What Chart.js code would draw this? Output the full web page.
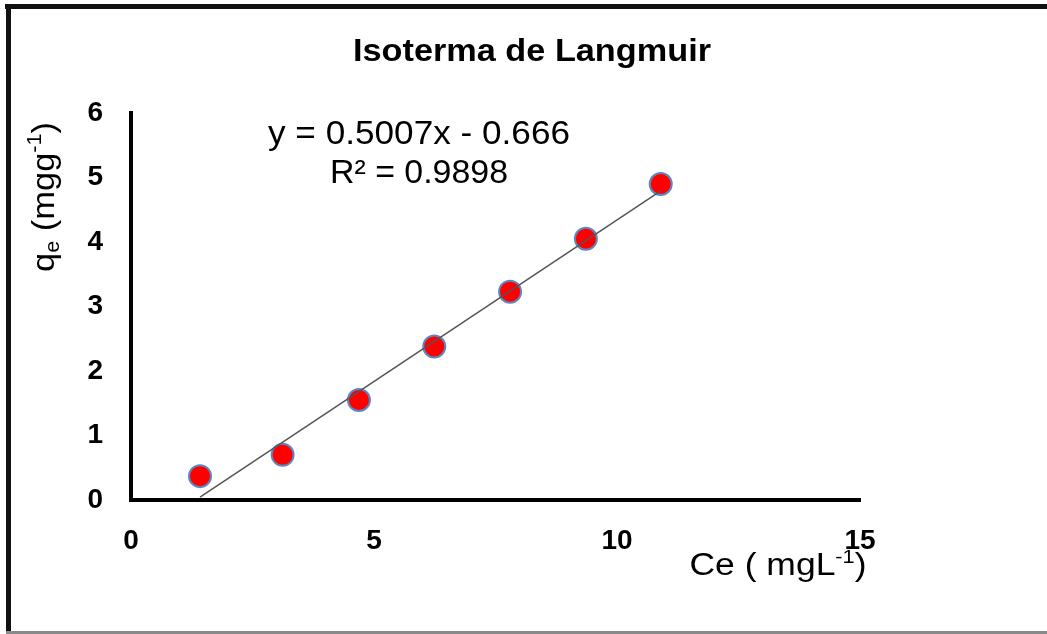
<!DOCTYPE html>
<html lang="pt">
<head>
  <meta charset="UTF-8">
  <title>Isoterma de Langmuir</title>
  <style>
    html, body {
      margin: 0;
      padding: 0;
      background: #fff;
    }
    #chart {
      display: block;
    }
  </style>
</head>
<body>
  <canvas id="chart" width="1047" height="634"></canvas>

  <script src="https://cdn.jsdelivr.net/npm/chart.js"></script>
  <script>
    // valores
    const ceValues = [1.42, 3.12, 4.69, 6.24, 7.80, 9.36, 10.90];
    const qeValues = [0.37, 0.70, 1.55, 2.38, 3.23, 4.05, 4.90];

    // linha de tendência (equação mostrada no gráfico)
    const slope = 0.5007;
    const intercept = -0.666;
    const rSquared = '0.9898';

    const xRange = [0, 15];
    const yRange = [0, 6];
    const xStep = 5;
    const yStep = 1;

    const chartTitle = 'Isoterma de Langmuir';

    const points = ceValues.map((x, i) => ({ x: x, y: qeValues[i] }));
    const xFirst = Math.min(...ceValues);
    const xLast = Math.max(...ceValues);
    const trend = [
      { x: xFirst, y: slope * xFirst + intercept },
      { x: xLast, y: slope * xLast + intercept }
    ];

    const FONT = '"Liberation Sans", Arial, sans-serif';

    // texto com índices / expoentes, esticado até a largura pedida
    function drawParts(ctx, parts, size, weight, targetWidth) {
      const small = Math.round(size * 0.62);
      const fontFor = p => `${weight} ${p.sub || p.sup ? small : size}px ${FONT}`;
      let w = 0;
      parts.forEach(p => {
        ctx.font = fontFor(p);
        p.w = ctx.measureText(p.t).width;
        w += p.w;
      });
      ctx.scale(targetWidth / w, 1);
      let x = -w / 2;
      parts.forEach(p => {
        ctx.font = fontFor(p);
        const dy = p.sub ? size * 0.16 : p.sup ? -size * 0.4 : 0;
        ctx.fillText(p.t, x, dy);
        x += p.w;
      });
    }

    const framePlugin = {
      id: 'frame',
      beforeDraw(chart) {
        const ctx = chart.ctx;
        ctx.save();
        ctx.fillStyle = '#fff';
        ctx.fillRect(0, 0, chart.width, chart.height);
        ctx.fillStyle = '#111';
        ctx.fillRect(5, 4, chart.width - 5, 5);
        ctx.fillRect(6, 4, 5, chart.height - 4);
        ctx.fillStyle = '#8a8a8a';
        ctx.fillRect(6, chart.height - 3, chart.width - 6, 3);
        ctx.restore();
      }
    };

    const textPlugin = {
      id: 'texts',
      afterDraw(chart) {
        const ctx = chart.ctx;
        ctx.save();
        ctx.fillStyle = '#000';
        ctx.textAlign = 'left';
        ctx.textBaseline = 'alphabetic';

        // título
        ctx.save();
        ctx.translate(532, 61);
        drawParts(ctx, [{ t: chartTitle }], 31, 'bold', 358);
        ctx.restore();

        // equação da reta
        ctx.save();
        ctx.translate(419, 144);
        drawParts(ctx, [{ t: `y = ${slope}x - ${Math.abs(intercept)}` }], 33, 'normal', 302);
        ctx.restore();
        ctx.save();
        ctx.translate(419, 183);
        drawParts(ctx, [{ t: `R² = ${rSquared}` }], 33, 'normal', 178);
        ctx.restore();

        // título do eixo x
        ctx.save();
        ctx.translate(778, 575);
        drawParts(ctx, [{ t: 'Ce ( mgL' }, { t: '-1', sup: true }, { t: ')' }], 31, 'normal', 177);
        ctx.restore();

        // título do eixo y
        ctx.save();
        ctx.translate(54, 197);
        ctx.rotate(-Math.PI / 2);
        drawParts(ctx, [{ t: 'q' }, { t: 'e', sub: true }, { t: ' (mgg' }, { t: '-1', sup: true }, { t: ')' }], 32, 'normal', 150);
        ctx.restore();

        ctx.restore();
      }
    };

    const tickFont = { family: FONT, size: 28, weight: 'bold' };

    new Chart(document.getElementById('chart').getContext('2d'), {
      type: 'scatter',
      data: {
        datasets: [{
          label: 'qe',
          data: points,
          pointRadius: 11,
          pointBackgroundColor: '#ff0000',
          pointBorderColor: '#5b87c4',
          pointBorderWidth: 2,
          showLine: false,
          order: 2
        }, {
          label: 'Linear',
          data: trend,
          showLine: true,
          borderColor: '#555555',
          borderWidth: 1.5,
          pointRadius: 0,
          order: 1
        }]
      },
      options: {
        responsive: false,
        animation: false,
        events: [],
        layout: {
          padding: { left: 0, top: 113, right: 187, bottom: 0 }
        },
        plugins: {
          legend: { display: false },
          title: { display: false },
          tooltip: { enabled: false }
        },
        scales: {
          x: {
            type: 'linear',
            min: xRange[0],
            max: xRange[1],
            ticks: { stepSize: xStep, padding: 24, color: '#000', font: tickFont },
            grid: { display: false, drawTicks: false },
            border: { display: true, color: '#000', width: 4 },
            afterFit: s => { s.height = 134; }
          },
          y: {
            type: 'linear',
            min: yRange[0],
            max: yRange[1],
            ticks: { stepSize: yStep, padding: 28, color: '#000', font: tickFont },
            grid: { display: false, drawTicks: false },
            border: { display: true, color: '#000', width: 4 },
            afterFit: s => { s.width = 131; }
          }
        }
      },
      plugins: [framePlugin, textPlugin]
    });
  </script>
</body>
</html>
